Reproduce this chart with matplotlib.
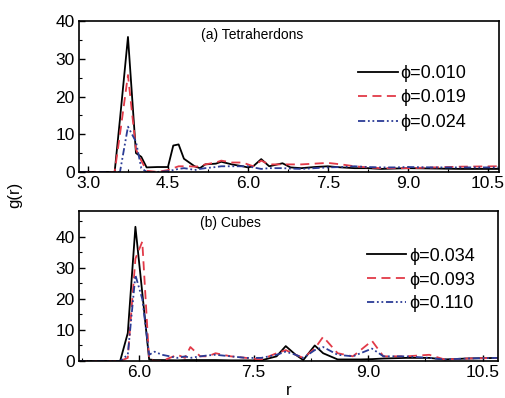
import numpy as np
import matplotlib.pyplot as plt
from matplotlib.ticker import MultipleLocator

plt.rcParams['font.family'] = ['Liberation Sans', 'DejaVu Sans']

# (a) Tetraherdons
r_a = [2.85, 3.5, 3.6, 3.75, 3.9, 4.0, 4.1, 4.3, 4.5, 4.6, 4.7, 4.8, 4.9, 5.0, 5.1, 5.2,
       5.4, 5.5, 5.7, 5.9, 6.0, 6.1, 6.25, 6.4, 6.65, 6.8, 7.0, 7.25, 7.5, 7.75, 8.0,
       8.25, 8.5, 8.75, 9.0, 9.5, 10.0, 10.7]
g_a010 = [0, 0, 14, 35.8, 5, 4, 1.2, 1.3, 1.3, 7, 7.3, 3.5, 2.5, 1.5, 1.0, 2.0,
          2.2, 2.7, 2.0, 1.5, 1.2, 1.5, 3.4, 1.5, 2.3, 1.2, 1.0, 1.3, 1.5, 1.2, 1.0,
          1.0, 0.8, 0.9, 1.0, 0.9, 0.8, 0.8]
g_a019 = [0, 0, 10, 25.7, 6, 3, 0.3, 0, 0.5, 1.0, 1.5, 1.5, 1.5, 1.4, 1.5, 2.0,
          2.5, 3.0, 2.5, 2.5, 2.0, 1.5, 3.0, 2.0, 2.0, 2.0, 2.0, 2.2, 2.4, 2.0, 1.5,
          1.2, 1.0, 1.0, 1.0, 1.2, 1.4, 1.5]
g_a024 = [0, 0, 0, 12, 8, 1.0, 0, 0, 0.2, 0.5, 0.8, 1.0, 0.8, 0.5, 0.8, 1.0,
          1.3, 1.5, 1.5, 1.5, 1.5, 1.2, 0.8, 1.0, 1.0, 0.9, 0.8, 1.0, 1.2, 1.3, 1.5,
          1.3, 1.2, 1.2, 1.3, 1.2, 1.2, 1.2]

# (b) Cubes
r_b = [5.2, 5.75, 5.85, 5.95, 6.04, 6.13, 6.2, 6.3, 6.5, 6.6, 6.67, 6.8, 6.9, 7.0, 7.2,
       7.4, 7.6, 7.8, 7.92, 8.05, 8.15, 8.3, 8.41, 8.6, 8.8, 8.9, 9.05, 9.2, 9.5, 9.8,
       10.0, 10.3, 10.7]
g_b034 = [0, 0, 9, 43.3, 22, 0.5, 0.3, 0.3, 0.2, 0.3, 0.3, 0.3, 0.3, 0.3, 0.2,
          0.2, 0.2, 1.5, 4.8, 2.0, 0.3, 5.0, 2.5, 0.5, 0.5, 0.5, 0.6, 0.8, 1.0, 1.0,
          0.5, 0.8, 1.0]
g_b093 = [0, 0, 1, 33, 38.5, 0.5, 0, 0, 2.0, 1.0, 4.5, 1.5, 1.5, 2.5, 1.5,
          1.0, 0.5, 2.5, 3.5, 2.0, 1.0, 4.0, 7.8, 2.5, 1.5, 3.5, 6.5, 1.5, 1.5, 2.0,
          0.5, 0.8, 1.0]
g_b110 = [0, 0, 2, 27.7, 20, 2, 3, 2, 1.0, 1.5, 1.0, 1.5, 1.8, 2.0, 1.5,
          1.0, 1.0, 2.0, 3.0, 2.0, 1.0, 3.5, 4.5, 2.0, 1.5, 2.5, 4.0, 1.5, 1.5, 1.0,
          0.5, 0.8, 1.0]

labels_a = ['ϕ=0.010', 'ϕ=0.019', 'ϕ=0.024']
labels_b = ['ϕ=0.034', 'ϕ=0.093', 'ϕ=0.110']

red = '#e23a48'
blue = '#2b3c96'
styles = [dict(color='black', ls='-'),
          dict(color=red, ls=(0, (5, 3))),
          dict(color=blue, ls=(0, (4, 1.5, 1, 1.5, 1, 1.5)))]

fig = plt.figure(figsize=(5.06, 3.98), dpi=100)
ax1 = fig.add_axes([0.156, 0.568, 0.830, 0.379])
ax2 = fig.add_axes([0.156, 0.093, 0.828, 0.377])

for g, lab, st in zip([g_a010, g_a019, g_a024], labels_a, styles):
    ax1.plot(r_a, g, lw=1.3, label=lab, **st)
for g, lab, st in zip([g_b034, g_b093, g_b110], labels_b, styles):
    ax2.plot(r_b, g, lw=1.3, label=lab, **st)

ax1.set_xlim(2.83, 10.71)
ax1.set_ylim(0, 40)
ax2.set_xlim(5.21, 10.70)
ax2.set_ylim(0, 48.4)

for ax in (ax1, ax2):
    ax.xaxis.set_major_locator(MultipleLocator(1.5))
    ax.xaxis.set_minor_locator(MultipleLocator(0.75))
    ax.yaxis.set_major_locator(MultipleLocator(10))
    ax.yaxis.set_minor_locator(MultipleLocator(5))
    ax.xaxis.set_major_formatter(plt.FormatStrFormatter('%.1f'))
    ax.tick_params(which='both', direction='in', top=False, right=False, labelsize=12.5)
    ax.tick_params(which='major', length=4, width=1, pad=3)
    ax.tick_params(which='minor', length=2.5, width=0.8)
    for sp in ax.spines.values():
        sp.set_linewidth(1.2)

ax1.text(0.29, 0.907, '(a) Tetraherdons', transform=ax1.transAxes, fontsize=10, va='center')
ax2.text(0.29, 0.92, '(b) Cubes', transform=ax2.transAxes, fontsize=10, va='center')

ax1.legend(loc='upper left', bbox_to_anchor=(0.665, 0.71), frameon=False, fontsize=13,
           handlelength=2.2, handletextpad=0.15, labelspacing=0.42, borderpad=0, borderaxespad=0)
ax2.legend(loc='upper left', bbox_to_anchor=(0.687, 0.755), frameon=False, fontsize=13,
           handlelength=2.2, handletextpad=0.15, labelspacing=0.38, borderpad=0, borderaxespad=0)

fig.text(0.03, 0.51, 'g(r)', rotation=90, va='center', ha='center', fontsize=12)
ax2.set_xlabel('r', fontsize=12, labelpad=2)

fig.savefig('out.png', dpi=100)
